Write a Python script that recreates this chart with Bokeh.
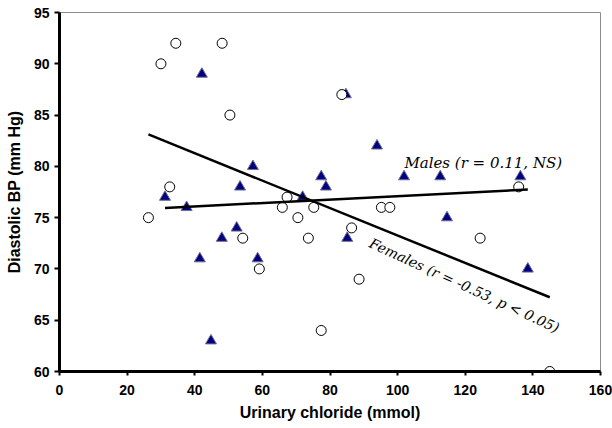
import numpy as np
from bokeh.plotting import figure
from bokeh.models import Label, FixedTicker
from bokeh.embed import file_html
from bokeh.resources import INLINE

# Females (open circles)
female_cl = [26.3, 30.0, 32.6, 34.4, 48.1, 50.4, 54.2, 59.1, 65.9, 67.3, 70.5,
             73.6, 75.2, 77.4, 83.5, 86.4, 88.6, 95.2, 97.7, 124.4, 135.8, 145.0]
female_bp = [75, 90, 78, 92, 92, 85, 73, 70, 76, 77, 75,
             73, 76, 64, 87, 74, 69, 76, 76, 73, 78, 60]

# Males (filled triangles)
male_cl = [31.2, 37.6, 41.5, 42.1, 44.8, 48.0, 52.4, 53.4, 57.2, 58.6, 71.9,
           77.4, 78.8, 84.7, 85.1, 93.9, 101.9, 112.6, 114.6, 136.3, 138.5]
male_bp = [77, 76, 71, 89, 63, 73, 74, 78, 80, 71, 77,
           79, 78, 87, 73, 82, 79, 79, 75, 79, 70]

x_ticks = [0, 20, 40, 60, 80, 100, 120, 140, 160]
y_ticks = [60, 65, 70, 75, 80, 85, 90, 95]

p = figure(width=612, height=428, x_range=(0, 160), y_range=(60, 95),
           output_backend="svg", toolbar_location=None,
           min_border_left=59, min_border_right=12, min_border_top=12, min_border_bottom=57)

p.xgrid.visible = False
p.ygrid.visible = False
p.outline_line_color = "#8c8c8c"
p.outline_line_width = 1

for ax in (p.xaxis[0], p.yaxis[0]):
    ax.axis_line_width = 3
    ax.axis_line_color = "black"
    ax.major_tick_line_width = 2
    ax.major_tick_line_color = "black"
    ax.major_tick_in = 0
    ax.major_tick_out = 5
    ax.minor_tick_line_color = None
    ax.major_label_text_font = "Liberation Sans"
    ax.major_label_text_font_style = "bold"
    ax.major_label_text_font_size = "14px"
    ax.major_label_text_color = "black"
    ax.axis_label_text_font = "Liberation Sans"
    ax.axis_label_text_font_style = "bold"
    ax.axis_label_text_font_size = "16px"
    ax.axis_label_text_color = "black"

p.xaxis[0].ticker = FixedTicker(ticks=x_ticks)
p.yaxis[0].ticker = FixedTicker(ticks=y_ticks)
p.xaxis[0].major_tick_out = 4
p.xaxis[0].major_label_standoff = 9
p.yaxis[0].major_label_standoff = 5
p.xaxis[0].axis_label = "Urinary chloride (mmol)"
p.yaxis[0].axis_label = "Diastolic BP (mm Hg)"
p.xaxis[0].axis_label_standoff = 6
p.yaxis[0].axis_label_standoff = 8

p.scatter(male_cl, male_bp, marker="triangle", size=11,
          fill_color="#000080", line_color="#6f6f8f", line_width=1)
p.scatter(female_cl, female_bp, marker="circle", size=10,
          fill_color="white", line_color="black", line_width=1)

# regression lines from data
fm, fb = np.polyfit(female_cl, female_bp, 1)
mm, mb = np.polyfit(male_cl, male_bp, 1)
fx = np.array([min(female_cl), max(female_cl)])
mx = np.array([min(male_cl), max(male_cl)])
p.line(fx, fm * fx + fb, line_color="black", line_width=2.5)
p.line(mx, mm * mx + mb, line_color="black", line_width=2.5)

p.add_layout(Label(x=102, y=80.3, text="Males (r = 0.11, NS)",
                   text_font="DejaVu Serif", text_font_style="italic",
                   text_font_size="15px", text_color="black",
                   text_baseline="alphabetic"))
p.add_layout(Label(x=91.9, y=72.6, text="Females (r = -0.53, p < 0.05)",
                   text_font="DejaVu Serif", text_font_style="italic",
                   text_font_size="14px", text_color="black",
                   angle=-0.43, text_baseline="alphabetic"))

open("out.html", "w").write(file_html(p, INLINE))
